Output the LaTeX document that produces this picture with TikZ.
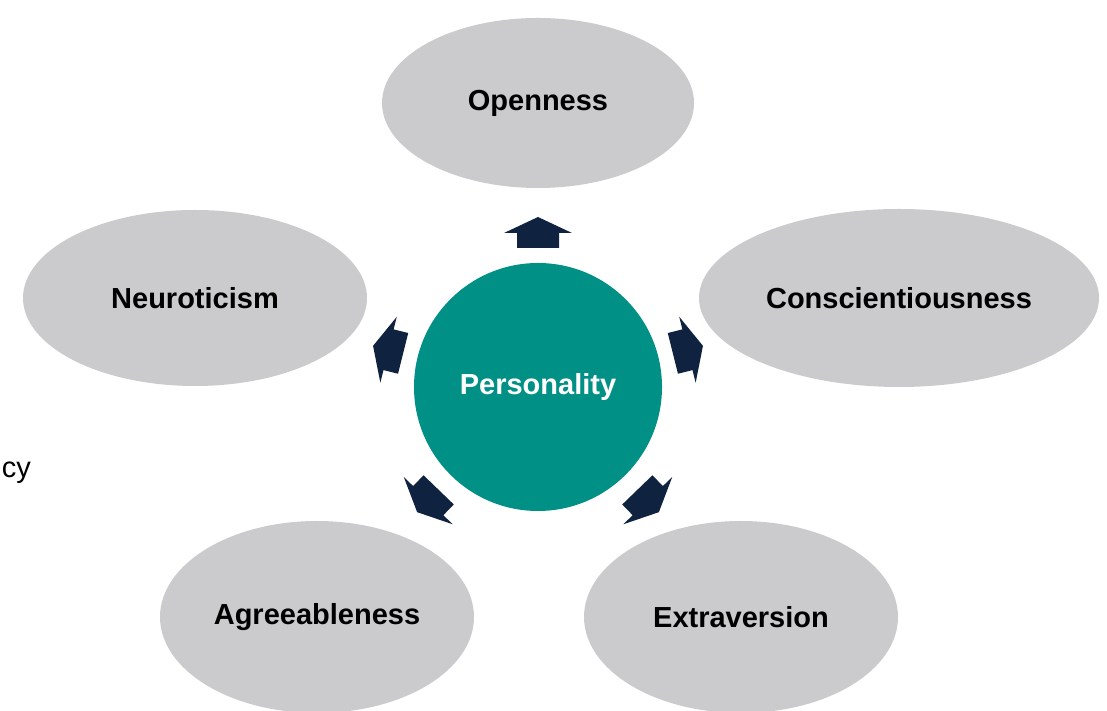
\documentclass[tikz,border=0pt]{standalone}
\usepackage{fontspec}
\setmainfont{Liberation Sans}
\usetikzlibrary{shapes.geometric}
\definecolor{traitgray}{HTML}{CBCACC}
\definecolor{coreteal}{HTML}{009086}
\definecolor{arrownavy}{HTML}{0F2341}
\begin{document}
\begin{tikzpicture}[x=1pt,y=1pt,
  trait/.style={ellipse, fill=traitgray, inner sep=0pt,
    font=\fontsize{29}{34}\selectfont\bfseries, text=black},
  core/.style={circle, fill=coreteal, inner sep=0pt, minimum size=248pt,
    font=\fontsize{29}{34}\selectfont\bfseries, text=white},
  blockarrow/.style={fill=arrownavy, draw=none}]
\useasboundingbox (0,0) rectangle (1107,711);
\clip (0,0) rectangle (1107,711);

% the five traits
\node[trait, minimum width=312pt, minimum height=170pt] (open) at (538,608) {Openness};
\node[trait, minimum width=344pt, minimum height=176pt] (neuro) at (195,413) {Neuroticism};
\node[trait, minimum width=400pt, minimum height=178pt] (consc) at (899,413) {Conscientiousness};
\node[trait, minimum width=314pt, minimum height=192pt] (agree) at (317,94) {Agreeableness};
\node[trait, minimum width=314pt, minimum height=192pt] (extra) at (741,94) {Extraversion};

% central circle
\node[core] (pers) at (538,324) {Personality};

% block arrows pointing outward from the centre
\foreach \ang/\r in {90/139, 14/139, 166/139, -46/143, -134/143}{
  \begin{scope}[shift={(pers.center)}, rotate=\ang]
    \fill[blockarrow] (\r,-21) -- ({\r+15},-21) -- ({\r+15},-34) -- ({\r+31},0)
      -- ({\r+15},34) -- ({\r+15},21) -- (\r,21) -- cycle;
  \end{scope}
}

% partial word at the left edge
\node[anchor=base east, inner sep=0pt, font=\fontsize{29}{34}\selectfont] (frag) at (31,233) {cy};
\end{tikzpicture}
\end{document}
